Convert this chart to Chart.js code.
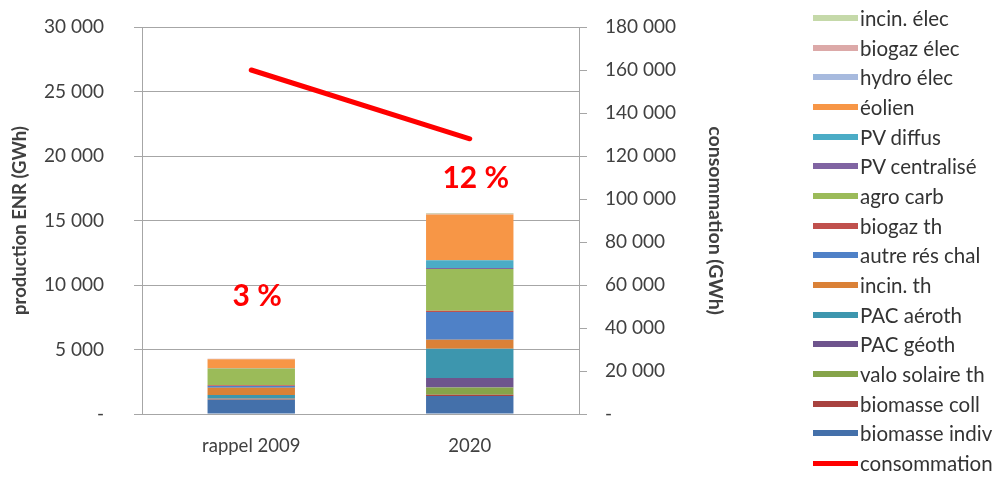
<!DOCTYPE html>
<html>
<head>
<meta charset="utf-8">
<script src="https://cdn.jsdelivr.net/npm/chart.js@4.4.1/dist/chart.umd.min.js"></script>
<style>
  html, body { margin: 0; padding: 0; background: #fff; }
  #wrap { position: relative; width: 1000px; height: 479px; }
  #legend { position: absolute; left: 813px; top: 3px; margin: 0; padding: 0; list-style: none;
    font-family: Lato, sans-serif; font-size: 20.5px; color: #333; white-space: nowrap; }
  #legend li { height: 29.7px; display: flex; align-items: center; }
  #legend span.box { display: inline-block; width: 45px; height: 6px; margin-right: 2px; flex: none; }
</style>
</head>
<body>
<div id="wrap">
  <canvas id="chart" width="1000" height="479"></canvas>
  <ul id="legend"></ul>
</div>
<script>
const categories = ['rappel 2009', '2020']

// stacked ENR production, GWh (bottom to top)
const seriesNames = [
  'biomasse indiv', 'biomasse coll', 'valo solaire th', 'PAC géoth', 'PAC aéroth',
  'incin. th', 'autre rés chal', 'biogaz th', 'agro carb', 'PV centralisé',
  'PV diffus', 'éolien', 'hydro élec', 'biogaz élec', 'incin. élec',
]
const seriesColors = [
  '#4470aa', '#a8423f', '#86a44a', '#6e548d', '#3d96ae',
  '#da8137', '#4f81c7', '#c0504d', '#9bbb59', '#8064a2',
  '#4bacc6', '#f79646', '#a7bade', '#dca9a8', '#c5d9a9',
]
const biomasseIndiv = [1100, 1400]
const biomasseColl = [50, 100]
const valoSolaireTh = [30, 550]
const pacGeoth = [50, 750]
const pacAeroth = [250, 2250]
const incinTh = [550, 700]
const autreResChal = [150, 2150]
const biogazTh = [50, 100]
const agroCarb = [1300, 3250]
const pvCentralise = [10, 60]
const pvDiffus = [10, 600]
const eolien = [700, 3550]
const hydroElec = [20, 20]
const biogazElec = [10, 40]
const incinElec = [10, 60]

const seriesValues = [
  biomasseIndiv, biomasseColl, valoSolaireTh, pacGeoth, pacAeroth,
  incinTh, autreResChal, biogazTh, agroCarb, pvCentralise,
  pvDiffus, eolien, hydroElec, biogazElec, incinElec,
]

// consumption, GWh (right axis)
const consommation = [160000, 128000]

// share labels above the bars
const shareLabels = ['3 %', '12 %']
const shareLabelY = [9100, 18300]

const gridGrey = '#a6a6a6'
const textColor = '#404040'

const datasets = seriesNames.map((name, i) => ({
  type: 'bar',
  label: name,
  data: seriesValues[i],
  backgroundColor: seriesColors[i],
  yAxisID: 'y',
  stack: 'enr',
  barPercentage: 0.4,
  categoryPercentage: 1,
  order: 2,
}))

datasets.push({
  type: 'line',
  label: 'consommation',
  data: consommation,
  borderColor: '#ff0000',
  backgroundColor: '#ff0000',
  borderWidth: 5,
  pointRadius: 0,
  borderCapStyle: 'round',
  yAxisID: 'y2',
  order: 1,
})

const shareLabelPlugin = {
  id: 'shareLabels',
  afterDatasetsDraw (chart) {
    const { ctx, scales: { x, y } } = chart
    ctx.save()
    ctx.fillStyle = '#ff0000'
    ctx.font = 'bold 30px Lato, sans-serif'
    ctx.textAlign = 'center'
    ctx.textBaseline = 'middle'
    shareLabels.forEach((t, i) => {
      ctx.fillText(t, x.getPixelForValue(i) + 6, y.getPixelForValue(shareLabelY[i]))
    })
    ctx.restore()
  },
}

const fmt = v => v === 0 ? '-' : v.toLocaleString('fr-FR').replace(/\u202f|\u00a0/g, ' ')

// fixed axis widths; drop the tick padding from the vertical overhang
const fixWidth = w => s => {
  s.width = w
  s.paddingTop = 12
  s.paddingBottom = 12
}

Chart.defaults.font.family = 'Lato, sans-serif'
Chart.defaults.color = textColor

new Chart(document.getElementById('chart'), {
  data: { labels: categories, datasets },
  plugins: [shareLabelPlugin],
  options: {
    responsive: false,
    animation: false,
    layout: { padding: { left: 0, right: 271, top: 27, bottom: 0 } },
    plugins: { legend: { display: false }, tooltip: { enabled: false } },
    scales: {
      x: {
        stacked: true,
        grid: { display: false, drawTicks: false },
        border: { display: true, color: gridGrey },
        ticks: { padding: 21, font: { size: 18.5 } },
        afterFit: s => { s.height = 65 },
      },
      y: {
        stacked: true,
        position: 'left',
        min: 0,
        max: 30000,
        grid: { color: gridGrey, tickLength: 8 },
        border: { color: gridGrey },
        ticks: { stepSize: 5000, padding: 30, font: { size: 19 }, callback: fmt },
        title: { display: true, text: 'production ENR (GWh)', font: { size: 18.5, weight: 'bold' }, padding: { top: 9, bottom: 0 } },
        afterFit: fixWidth(142),
      },
      y2: {
        position: 'right',
        min: 0,
        max: 180000,
        grid: { drawOnChartArea: false, color: gridGrey, tickLength: 8 },
        border: { color: gridGrey },
        ticks: { stepSize: 20000, padding: 18, font: { size: 19 }, callback: fmt },
        title: { display: true, text: 'consommation (GWh)', font: { size: 19.5, weight: 'bold' }, padding: { top: 2, bottom: 0 } },
        afterFit: fixWidth(150),
      },
    },
  },
})

// legend, top item is the last series, as in the reference
const legendEl = document.getElementById('legend')
const legendItems = seriesNames.map((n, i) => ({ name: n, color: seriesColors[i], h: 6 })).reverse()
legendItems.push({ name: 'consommation', color: '#ff0000', h: 5 })
legendItems.forEach(it => {
  const li = document.createElement('li')
  li.innerHTML = `<span class="box" style="background:${it.color};height:${it.h}px"></span>${it.name}`
  legendEl.appendChild(li)
})
</script>
</body>
</html>
